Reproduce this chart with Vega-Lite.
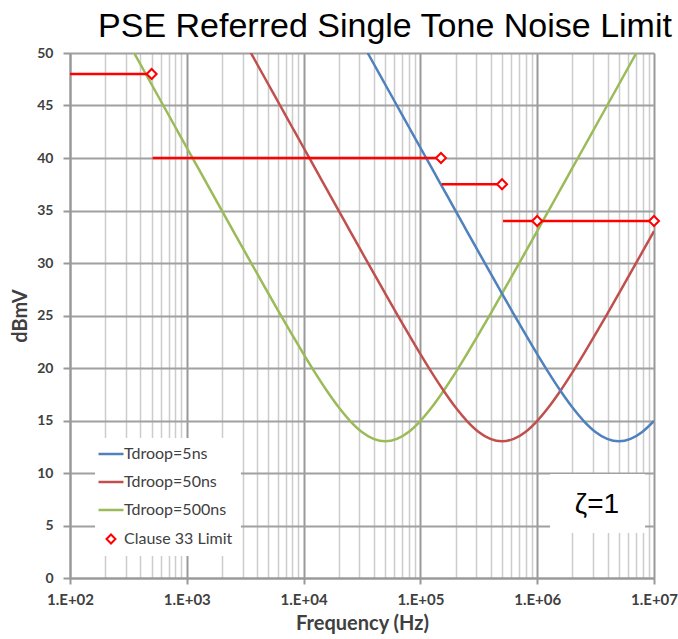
{
  "$schema": "https://vega.github.io/schema/vega-lite/v6.json",
  "width": 584,
  "height": 525,
  "autosize": "none",
  "padding": {"left": 70, "top": 53, "right": 24, "bottom": 61},
  "background": "white",
  "title": {
    "text": "PSE Referred Single Tone Noise Limit",
    "font": "Liberation Sans",
    "fontSize": 34,
    "fontWeight": "normal",
    "color": "#000000",
    "anchor": "middle",
    "baseline": "alphabetic",
    "offset": -25,
    "dx": 23
  },
  "datasets": {
    "curves": [
      {"f": 315.5, "y": 51.0, "s": "Tdroop=500ns"},
      {"f": 397.2, "y": 49.0, "s": "Tdroop=500ns"},
      {"f": 500, "y": 47.0, "s": "Tdroop=500ns"},
      {"f": 629.5, "y": 45.0, "s": "Tdroop=500ns"},
      {"f": 792.5, "y": 43.0, "s": "Tdroop=500ns"},
      {"f": 997.6, "y": 41.0, "s": "Tdroop=500ns"},
      {"f": 1256, "y": 39.01, "s": "Tdroop=500ns"},
      {"f": 1581, "y": 37.01, "s": "Tdroop=500ns"},
      {"f": 1991, "y": 35.01, "s": "Tdroop=500ns"},
      {"f": 2506, "y": 33.02, "s": "Tdroop=500ns"},
      {"f": 3155, "y": 31.03, "s": "Tdroop=500ns"},
      {"f": 3972, "y": 29.05, "s": "Tdroop=500ns"},
      {"f": 5000, "y": 27.09, "s": "Tdroop=500ns"},
      {"f": 6295, "y": 25.14, "s": "Tdroop=500ns"},
      {"f": 7924, "y": 23.22, "s": "Tdroop=500ns"},
      {"f": 9976, "y": 21.34, "s": "Tdroop=500ns"},
      {"f": 12559, "y": 19.53, "s": "Tdroop=500ns"},
      {"f": 15811, "y": 17.83, "s": "Tdroop=500ns"},
      {"f": 19905, "y": 16.28, "s": "Tdroop=500ns"},
      {"f": 25059, "y": 14.95, "s": "Tdroop=500ns"},
      {"f": 31548, "y": 13.91, "s": "Tdroop=500ns"},
      {"f": 39716, "y": 13.25, "s": "Tdroop=500ns"},
      {"f": 50000, "y": 13.02, "s": "Tdroop=500ns"},
      {"f": 62946, "y": 13.25, "s": "Tdroop=500ns"},
      {"f": 79245, "y": 13.91, "s": "Tdroop=500ns"},
      {"f": 99763, "y": 14.95, "s": "Tdroop=500ns"},
      {"f": 125594, "y": 16.28, "s": "Tdroop=500ns"},
      {"f": 158114, "y": 17.83, "s": "Tdroop=500ns"},
      {"f": 199054, "y": 19.53, "s": "Tdroop=500ns"},
      {"f": 250594, "y": 21.34, "s": "Tdroop=500ns"},
      {"f": 315479, "y": 23.22, "s": "Tdroop=500ns"},
      {"f": 397164, "y": 25.14, "s": "Tdroop=500ns"},
      {"f": 500000, "y": 27.09, "s": "Tdroop=500ns"},
      {"f": 629463, "y": 29.05, "s": "Tdroop=500ns"},
      {"f": 792447, "y": 31.03, "s": "Tdroop=500ns"},
      {"f": 997631, "y": 33.02, "s": "Tdroop=500ns"},
      {"f": 1255943, "y": 35.01, "s": "Tdroop=500ns"},
      {"f": 1581139, "y": 37.01, "s": "Tdroop=500ns"},
      {"f": 1990536, "y": 39.01, "s": "Tdroop=500ns"},
      {"f": 2505936, "y": 41.0, "s": "Tdroop=500ns"},
      {"f": 3154787, "y": 43.0, "s": "Tdroop=500ns"},
      {"f": 3971641, "y": 45.0, "s": "Tdroop=500ns"},
      {"f": 5000000, "y": 47.0, "s": "Tdroop=500ns"},
      {"f": 6294627, "y": 49.0, "s": "Tdroop=500ns"},
      {"f": 7924466, "y": 51.0, "s": "Tdroop=500ns"},

      {"f": 3155, "y": 51.0, "s": "Tdroop=50ns"},
      {"f": 3972, "y": 49.0, "s": "Tdroop=50ns"},
      {"f": 5000, "y": 47.0, "s": "Tdroop=50ns"},
      {"f": 6295, "y": 45.0, "s": "Tdroop=50ns"},
      {"f": 7924, "y": 43.0, "s": "Tdroop=50ns"},
      {"f": 9976, "y": 41.0, "s": "Tdroop=50ns"},
      {"f": 12559, "y": 39.01, "s": "Tdroop=50ns"},
      {"f": 15811, "y": 37.01, "s": "Tdroop=50ns"},
      {"f": 19905, "y": 35.01, "s": "Tdroop=50ns"},
      {"f": 25059, "y": 33.02, "s": "Tdroop=50ns"},
      {"f": 31548, "y": 31.03, "s": "Tdroop=50ns"},
      {"f": 39716, "y": 29.05, "s": "Tdroop=50ns"},
      {"f": 50000, "y": 27.09, "s": "Tdroop=50ns"},
      {"f": 62946, "y": 25.14, "s": "Tdroop=50ns"},
      {"f": 79245, "y": 23.22, "s": "Tdroop=50ns"},
      {"f": 99763, "y": 21.34, "s": "Tdroop=50ns"},
      {"f": 125594, "y": 19.53, "s": "Tdroop=50ns"},
      {"f": 158114, "y": 17.83, "s": "Tdroop=50ns"},
      {"f": 199054, "y": 16.28, "s": "Tdroop=50ns"},
      {"f": 250594, "y": 14.95, "s": "Tdroop=50ns"},
      {"f": 315479, "y": 13.91, "s": "Tdroop=50ns"},
      {"f": 397164, "y": 13.25, "s": "Tdroop=50ns"},
      {"f": 500000, "y": 13.02, "s": "Tdroop=50ns"},
      {"f": 629463, "y": 13.25, "s": "Tdroop=50ns"},
      {"f": 792447, "y": 13.91, "s": "Tdroop=50ns"},
      {"f": 997631, "y": 14.95, "s": "Tdroop=50ns"},
      {"f": 1255943, "y": 16.28, "s": "Tdroop=50ns"},
      {"f": 1581139, "y": 17.83, "s": "Tdroop=50ns"},
      {"f": 1990536, "y": 19.53, "s": "Tdroop=50ns"},
      {"f": 2505936, "y": 21.34, "s": "Tdroop=50ns"},
      {"f": 3154787, "y": 23.22, "s": "Tdroop=50ns"},
      {"f": 3971641, "y": 25.14, "s": "Tdroop=50ns"},
      {"f": 5000000, "y": 27.09, "s": "Tdroop=50ns"},
      {"f": 6294627, "y": 29.05, "s": "Tdroop=50ns"},
      {"f": 7924466, "y": 31.03, "s": "Tdroop=50ns"},
      {"f": 10000000, "y": 33.04, "s": "Tdroop=50ns"},

      {"f": 31548, "y": 51.0, "s": "Tdroop=5ns"},
      {"f": 39716, "y": 49.0, "s": "Tdroop=5ns"},
      {"f": 50000, "y": 47.0, "s": "Tdroop=5ns"},
      {"f": 62946, "y": 45.0, "s": "Tdroop=5ns"},
      {"f": 79245, "y": 43.0, "s": "Tdroop=5ns"},
      {"f": 99763, "y": 41.0, "s": "Tdroop=5ns"},
      {"f": 125594, "y": 39.01, "s": "Tdroop=5ns"},
      {"f": 158114, "y": 37.01, "s": "Tdroop=5ns"},
      {"f": 199054, "y": 35.01, "s": "Tdroop=5ns"},
      {"f": 250594, "y": 33.02, "s": "Tdroop=5ns"},
      {"f": 315479, "y": 31.03, "s": "Tdroop=5ns"},
      {"f": 397164, "y": 29.05, "s": "Tdroop=5ns"},
      {"f": 500000, "y": 27.09, "s": "Tdroop=5ns"},
      {"f": 629463, "y": 25.14, "s": "Tdroop=5ns"},
      {"f": 792447, "y": 23.22, "s": "Tdroop=5ns"},
      {"f": 997631, "y": 21.34, "s": "Tdroop=5ns"},
      {"f": 1255943, "y": 19.53, "s": "Tdroop=5ns"},
      {"f": 1581139, "y": 17.83, "s": "Tdroop=5ns"},
      {"f": 1990536, "y": 16.28, "s": "Tdroop=5ns"},
      {"f": 2505936, "y": 14.95, "s": "Tdroop=5ns"},
      {"f": 3154787, "y": 13.91, "s": "Tdroop=5ns"},
      {"f": 3971641, "y": 13.25, "s": "Tdroop=5ns"},
      {"f": 5000000, "y": 13.02, "s": "Tdroop=5ns"},
      {"f": 6294627, "y": 13.25, "s": "Tdroop=5ns"},
      {"f": 7924466, "y": 13.91, "s": "Tdroop=5ns"},
      {"f": 10000000, "y": 14.96, "s": "Tdroop=5ns"}
    ],
    "limit_lines": [
      {"f1": 100, "f2": 500, "y": 48, "s": "Clause 33 Limit"},
      {"f1": 510, "f2": 150000, "y": 40, "s": "Clause 33 Limit"},
      {"f1": 152000, "f2": 500000, "y": 37.5, "s": "Clause 33 Limit"},
      {"f1": 510000, "f2": 10000000, "y": 34, "s": "Clause 33 Limit"}
    ],
    "limit_points": [
      {"f": 500, "y": 48, "s": "Clause 33 Limit"},
      {"f": 150000, "y": 40, "s": "Clause 33 Limit"},
      {"f": 500000, "y": 37.5, "s": "Clause 33 Limit"},
      {"f": 1000000, "y": 34, "s": "Clause 33 Limit"},
      {"f": 10000000, "y": 34, "s": "Clause 33 Limit"}
    ],
    "note": [
      {"f1": 1288000, "f2": 8380000, "y1": 9.9, "y2": 4.29, "f": 3250000, "y": 6.95, "label": "ζ=1"}
    ]
  },
  "encoding": {
    "x": {
      "field": "f",
      "type": "quantitative",
      "scale": {"type": "log", "domain": [100, 10000000], "nice": false},
      "axis": {
        "title": "Frequency (Hz)",
        "titleFont": "Lato",
        "titleFontSize": 20,
        "titleFontWeight": "bold",
        "titleColor": "#404040",
        "titlePadding": 6,
        "values": [100, 200, 300, 400, 500, 600, 700, 800, 900, 1000, 2000, 3000, 4000, 5000, 6000, 7000, 8000, 9000, 10000, 20000, 30000, 40000, 50000, 60000, 70000, 80000, 90000, 100000, 200000, 300000, 400000, 500000, 600000, 700000, 800000, 900000, 1000000, 2000000, 3000000, 4000000, 5000000, 6000000, 7000000, 8000000, 9000000, 10000000],
        "labelExpr": "datum.value == 100 ? '1.E+02' : datum.value == 1000 ? '1.E+03' : datum.value == 10000 ? '1.E+04' : datum.value == 100000 ? '1.E+05' : datum.value == 1000000 ? '1.E+06' : datum.value == 10000000 ? '1.E+07' : ''",
        "labelOverlap": false,
        "labelFont": "Lato",
        "labelFontSize": 15,
        "labelFontWeight": "bold",
        "labelColor": "#404040",
        "labelPadding": 8,
        "labelFlush": false,
        "grid": true,
        "gridColor": {"condition": {"test": "indexof([100,1000,10000,100000,1000000,10000000], datum.value) >= 0", "value": "#999999"}, "value": "#cccccc"},
        "gridWidth": {"condition": {"test": "indexof([100,1000,10000,100000,1000000,10000000], datum.value) >= 0", "value": 2}, "value": 1.5},
        "tickOpacity": {"condition": {"test": "indexof([100,1000,10000,100000,1000000,10000000], datum.value) >= 0", "value": 1}, "value": 0},
        "tickColor": "#999999",
        "tickWidth": 2,
        "tickSize": 6,
        "domainColor": "#999999",
        "domainWidth": 2
      }
    },
    "y": {
      "field": "y",
      "type": "quantitative",
      "scale": {"domain": [0, 50], "nice": false},
      "axis": {
        "title": "dBmV",
        "titleFont": "Lato",
        "titleFontSize": 20,
        "titleFontWeight": "bold",
        "titleColor": "#404040",
        "titlePadding": 6,
        "values": [0, 5, 10, 15, 20, 25, 30, 35, 40, 45, 50],
        "labelFont": "Lato",
        "labelFontSize": 14,
        "labelFontWeight": "bold",
        "labelColor": "#404040",
        "labelPadding": 10,
        "grid": true,
        "gridColor": "#a0a0a0",
        "gridWidth": 2,
        "tickColor": "#999999",
        "tickWidth": 2,
        "tickSize": 7,
        "domainColor": "#999999",
        "domainWidth": 2
      }
    },
    "color": {
      "field": "s",
      "type": "nominal",
      "scale": {
        "domain": ["Tdroop=5ns", "Tdroop=50ns", "Tdroop=500ns", "Clause 33 Limit"],
        "range": ["#4F81BD", "#C0504D", "#9BBB59", "#FF0000"]
      },
      "legend": {
        "title": null,
        "orient": "none",
        "legendX": 25,
        "legendY": 385,
        "fillColor": "white",
        "padding": 8,
        "symbolSize": 800,
        "symbolStrokeWidth": 2.5,
        "labelFont": "Lato",
        "labelFontSize": 16,
        "labelColor": "#404040",
        "labelOffset": 5,
        "rowPadding": 12,
        "encode": {
          "symbols": {
            "update": {
              "shape": {"signal": "datum.value === 'Clause 33 Limit' ? 'diamond' : 'stroke'"},
              "size": {"signal": "datum.value === 'Clause 33 Limit' ? 80 : 625"},
              "fill": {"value": "white"},
              "strokeWidth": {"signal": "datum.value === 'Clause 33 Limit' ? 2 : 2.5"}
            }
          }
        }
      }
    }
  },
  "layer": [
    {
      "data": {"name": "curves"},
      "mark": {"type": "line", "clip": true, "strokeWidth": 2.5, "interpolate": "monotone"}
    },
    {
      "data": {"name": "limit_lines"},
      "mark": {"type": "rule", "strokeWidth": 2.5},
      "encoding": {
        "x": {"field": "f1", "type": "quantitative"},
        "x2": {"field": "f2"}
      }
    },
    {
      "data": {"name": "limit_points"},
      "mark": {"type": "point", "shape": "diamond", "filled": false, "fill": "white", "size": 100, "strokeWidth": 2, "opacity": 1}
    },
    {
      "data": {"name": "note"},
      "mark": {"type": "rect", "color": "white"},
      "encoding": {
        "x": {"field": "f1", "type": "quantitative"},
        "x2": {"field": "f2"},
        "y": {"field": "y1", "type": "quantitative"},
        "y2": {"field": "y2"},
        "color": null
      }
    },
    {
      "data": {"name": "note"},
      "mark": {"type": "text", "font": "Liberation Sans", "fontSize": 28, "color": "#000000", "align": "center", "baseline": "middle"},
      "encoding": {
        "text": {"field": "label"},
        "color": null
      }
    }
  ]
}
